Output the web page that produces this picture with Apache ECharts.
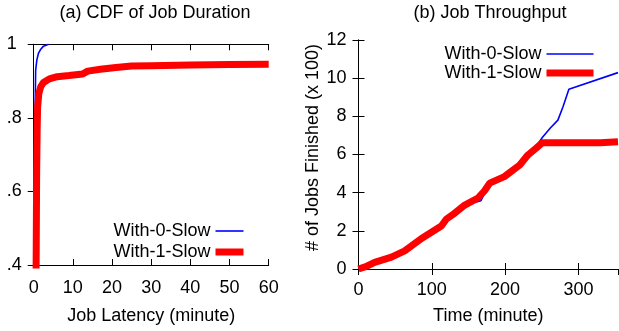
<!DOCTYPE html>
<html><head><meta charset="utf-8">
<script src="https://cdn.jsdelivr.net/npm/echarts@6.0.0/dist/echarts.min.js"></script>
<style>html,body{margin:0;padding:0;background:#fff}#c{width:619px;height:331px}</style>
</head><body><div id="c"></div>
<script>
// ---- data ----
const seriesNames = ['With-0-Slow', 'With-1-Slow'];
const titles = ['(a) CDF of Job Duration', '(b) Job Throughput'];
const axisNames = ['Job Latency (minute)', 'Time (minute)', '# of Jobs Finished (x 100)'];

// (a) CDF: latency (minute) and cumulative fraction
const cdf0Latency = [0.3, 0.35, 0.4, 0.5, 0.8, 1.2, 1.7, 2.5, 3.8];
const cdf0Fraction = [0.30, 0.70, 0.85, 0.93, 0.957, 0.975, 0.985, 0.995, 1.0];
const cdf1Latency = [0.55, 0.65, 0.75, 0.9, 1.0, 1.3, 1.8, 2.5, 4, 6, 9, 12.5, 13.8, 17, 21, 25, 30, 40, 50, 60];
const cdf1Fraction = [0.30, 0.45, 0.65, 0.78, 0.83, 0.865, 0.885, 0.896, 0.906, 0.912, 0.915, 0.919, 0.927, 0.932, 0.937, 0.941, 0.942, 0.944, 0.945, 0.946];
const cdfYTickLabels = ['.4', '.6', '.8', '1'];

// (b) Throughput: time (minute) and jobs finished (x100)
const tp0Time = [0, 10, 22, 45, 63, 86, 113, 120, 131, 145, 152, 167, 179, 199, 220, 231, 242, 251, 262, 272, 279, 287, 354];
const tp0Jobs = [0, 0.12, 0.35, 0.62, 0.95, 1.6, 2.25, 2.62, 2.92, 3.35, 3.42, 3.58, 4.5, 4.84, 5.45, 5.97, 6.4, 6.9, 7.4, 7.8, 8.5, 9.42, 10.29];
const tp1Time = [0, 10, 22, 45, 63, 86, 113, 120, 131, 145, 163, 172, 179, 199, 220, 231, 242, 251, 300, 330, 354];
const tp1Jobs = [0, 0.12, 0.35, 0.62, 0.95, 1.6, 2.25, 2.62, 2.92, 3.35, 3.72, 4.1, 4.5, 4.84, 5.45, 5.97, 6.32, 6.62, 6.62, 6.62, 6.67];

// ---- chart ----
const zip = (xs, ys) => xs.map((x, i) => [x, ys[i]]);
const FONT = 'Liberation Sans';
const txt = { fontFamily: FONT, fontSize: 18, color: '#000' };
const black = { lineStyle: { color: '#000', width: 1 } };

function mainX(grid, min, max, interval, name, nameGap, margin) {
  return {
    type: 'value', gridIndex: grid, min, max, interval, position: 'bottom',
    name, nameLocation: 'middle', nameGap, nameTextStyle: txt,
    axisLine: Object.assign({ show: true }, black),
    axisTick: Object.assign({ show: true, inside: true, length: 6 }, black),
    axisLabel: Object.assign({ margin, showMaxLabel: max % interval === 0 }, txt),
    splitLine: { show: false }
  };
}
function mirrorX(grid, min, max, interval) {
  return {
    type: 'value', gridIndex: grid, min, max, interval, position: 'top',
    axisLine: Object.assign({ show: true }, black),
    axisTick: Object.assign({ show: true, inside: true, length: 6 }, black),
    axisLabel: { show: false }, splitLine: { show: false }
  };
}
function mirrorY(grid, min, max, interval) {
  return {
    type: 'value', gridIndex: grid, min, max, interval, position: 'right',
    axisLine: Object.assign({ show: true }, black),
    axisTick: Object.assign({ show: true, inside: true, length: 6 }, black),
    axisLabel: { show: false }, splitLine: { show: false }
  };
}

const chart = echarts.init(document.getElementById('c'), null, { renderer: 'canvas' });
chart.setOption({
  animation: false,
  backgroundColor: '#fff',
  title: [
    { text: titles[0], left: 155, top: 4, textAlign: 'center', padding: 0,
      textStyle: { fontFamily: FONT, fontSize: 18, fontWeight: 'normal', color: '#000' } },
    { text: titles[1], left: 490, top: 4, textAlign: 'center', padding: 0,
      textStyle: { fontFamily: FONT, fontSize: 18, fontWeight: 'normal', color: '#000' } }
  ],
  grid: [
    { left: 33.7, right: 350.3, top: 44.3, bottom: 66, containLabel: false, outerBoundsMode: 'none' },
    { left: 358.5, right: 1, top: 40, bottom: 62, containLabel: false, outerBoundsMode: 'none' }
  ],
  legend: [
    { data: seriesNames, orient: 'vertical', align: 'right', right: 372, top: 222,
      itemWidth: 28, itemHeight: 16, itemGap: 3, selectedMode: false, padding: 0,
      textStyle: txt, lineStyle: { width: 'inherit', cap: 'butt' },
      itemStyle: { opacity: 0, color: 'rgba(0,0,0,0)', borderWidth: 0 } },
    { data: seriesNames, orient: 'vertical', align: 'right', right: 22, top: 45,
      itemWidth: 47, itemHeight: 16, itemGap: 1, selectedMode: false, padding: 0,
      textStyle: txt, lineStyle: { width: 'inherit', cap: 'butt' },
      itemStyle: { opacity: 0, color: 'rgba(0,0,0,0)', borderWidth: 0 } }
  ],
  xAxis: [
    mainX(0, 0, 60, 10, axisNames[0], 42, 14),
    mirrorX(0, 0, 60, 10),
    mainX(1, 0, 354, 100, axisNames[1], 38, 12),
    mirrorX(1, 0, 354, 100)
  ],
  yAxis: [
    {
      type: 'value', gridIndex: 0, min: 0.4, max: 1, interval: 0.2, position: 'left',
      axisLine: Object.assign({ show: true }, black),
      axisTick: Object.assign({ show: true, inside: true, length: 6 }, black),
      axisLabel: Object.assign({ align: 'left', margin: 27,
        formatter: v => cdfYTickLabels[Math.round((v - 0.4) / 0.2)] }, txt),
      splitLine: { show: false }
    },
    mirrorY(0, 0.4, 1, 0.2),
    {
      type: 'value', gridIndex: 1, min: 0, max: 12, interval: 2, position: 'left',
      name: axisNames[2], nameLocation: 'middle', nameGap: 36,
      nameTextStyle: Object.assign({ padding: [0, 0, 0, 14] }, txt),
      axisLine: Object.assign({ show: true }, black),
      axisTick: Object.assign({ show: true, inside: true, length: 6 }, black),
      axisLabel: Object.assign({ margin: 12 }, txt),
      splitLine: { show: false }
    },
    mirrorY(1, 0, 12, 2)
  ],
  series: [
    { name: seriesNames[0], type: 'line', xAxisIndex: 0, yAxisIndex: 0, symbol: 'none',
      data: zip(cdf0Latency, cdf0Fraction), lineStyle: { color: '#0000ff', width: 1.6 },
      itemStyle: { color: '#0000ff' }, z: 2 },
    { name: seriesNames[1], type: 'line', xAxisIndex: 0, yAxisIndex: 0, symbol: 'none',
      data: zip(cdf1Latency, cdf1Fraction), lineStyle: { color: '#ff0000', width: 7 },
      itemStyle: { color: '#ff0000' }, z: 3 },
    { name: seriesNames[0], type: 'line', xAxisIndex: 2, yAxisIndex: 2, symbol: 'none',
      data: zip(tp0Time, tp0Jobs), lineStyle: { color: '#0000ff', width: 1.6 },
      itemStyle: { color: '#0000ff' }, z: 2 },
    { name: seriesNames[1], type: 'line', xAxisIndex: 2, yAxisIndex: 2, symbol: 'none',
      data: zip(tp1Time, tp1Jobs), lineStyle: { color: '#ff0000', width: 7 },
      itemStyle: { color: '#ff0000' }, z: 3 }
  ]
});
</script>
</body></html>
